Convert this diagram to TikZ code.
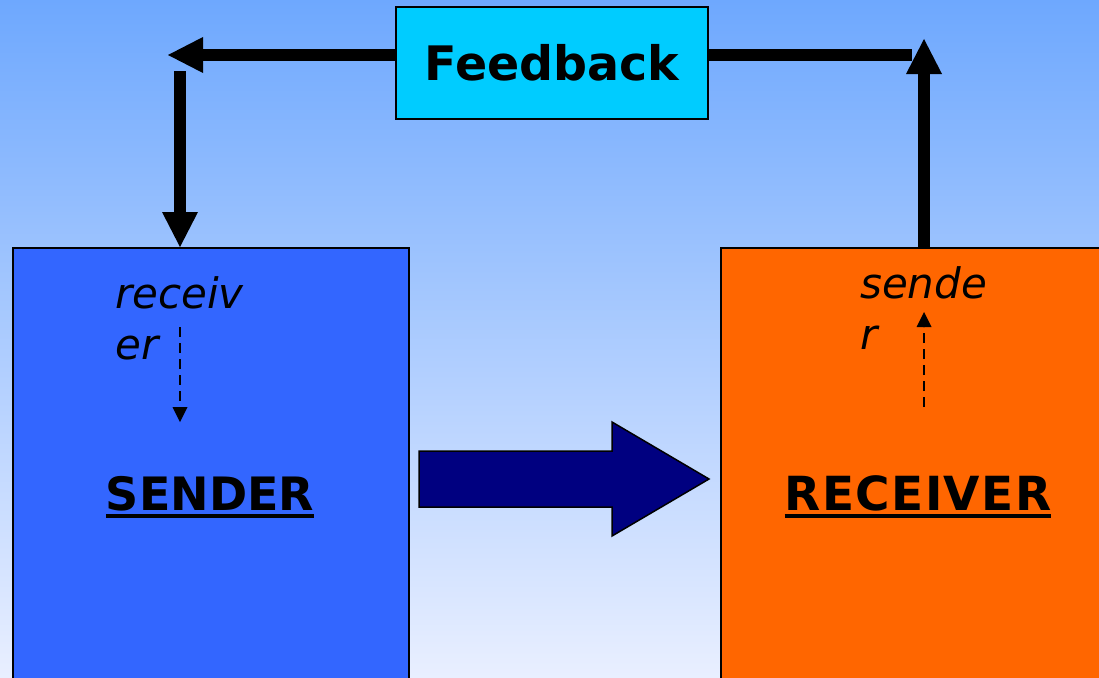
\documentclass[tikz,border=0pt]{standalone}
\usepackage{fontspec}
\setmainfont{DejaVu Sans}
\usetikzlibrary{arrows.meta}

\definecolor{skytop}{HTML}{6EA8FE}
\definecolor{skybot}{HTML}{E9EFFF}
\definecolor{fbfill}{HTML}{00CCFF}
\definecolor{sendfill}{HTML}{3366FF}
\definecolor{recvfill}{HTML}{FF6600}
\definecolor{flownavy}{HTML}{000080}

% underlined heading with a thick rule just below the baseline
\newcommand\ulword[1]{\setbox0\hbox{#1}\rlap{\rule[-8pt]{\wd0}{4pt}}\box0}

\begin{document}
\begin{tikzpicture}[x=1pt,y=-1pt,
  party/.style={draw=black, line width=2pt, anchor=north west,
                minimum height=460pt, inner sep=0pt},
  boldlabel/.style={font=\fontsize{46}{55}\selectfont\bfseries,
                    inner sep=0pt, anchor=base},
  rolelabel/.style={font=\fontsize{42}{50}\selectfont\itshape,
                    inner sep=0pt, anchor=base west},
  loop/.style={line width=12pt},
  loophead/.style={-{Triangle[width=36pt,length=35pt,line width=0pt]}},
  hint/.style={line width=2pt, dash pattern=on 10pt off 6pt,
               -{Triangle[width=15pt,length=15pt,line width=0pt]}}]

  \useasboundingbox (0,0) rectangle (1099,677);
  \clip (0,0) rectangle (1099,677);

  % sky background
  \shade[top color=skytop, bottom color=skybot] (0,0) rectangle (1099,677);

  % the two parties
  \node[party, fill=sendfill, minimum width=396pt] (sender) at (12,247) {};
  \node[party, fill=recvfill, minimum width=420pt] (receiver) at (720,247) {};

  \node[boldlabel] (sendertext) at (210,510) {\ulword{SENDER}};
  \node[boldlabel, font=\fontsize{47}{55}\selectfont\bfseries]
    (receivertext) at (918,510) {\ulword{\addfontfeature{LetterSpace=3}RECEIVER}};

  % feedback box
  \node[draw=black, line width=2pt, fill=fbfill, minimum width=312pt,
        minimum height=112pt, inner sep=0pt,
        font=\fontsize{47.5}{55}\selectfont\bfseries] (feedback) at (552,63) {Feedback};

  % feedback loop
  \coordinate (tl) at (168,55);
  \coordinate (tr) at (912,55);
  \coordinate (lv) at (180,71);
  \coordinate (rv) at (924,39);

  \draw[loop, loophead] (feedback.west |- tl) -- (tl);
  \draw[loop] (feedback.east |- tr) -- (tr);
  \draw[loop, loophead] (lv) -- (lv |- sender.north);
  \draw[loop, loophead] (rv |- receiver.north) -- (rv);

  % role labels inside the boxes
  \node[rolelabel] (recA) at (115,308) {receiv};
  \node[rolelabel] (recB) at (115,359) {er};
  \node[rolelabel] (senA) at (860,298) {sende};
  \node[rolelabel] (senB) at (860,349) {r};

  \coordinate (d1s) at (180,327);
  \coordinate (d1e) at (180,422);
  \coordinate (d2s) at (924,407);
  \coordinate (d2e) at (924,312);
  \draw[hint] (d1s) -- (d1e);
  \draw[hint] (d2s) -- (d2e);

  % message flow arrow
  \filldraw[fill=flownavy, draw=black, line width=1.5pt, line join=miter]
    (419,451) -- (612,451) -- (612,422) -- (709,479) -- (612,536)
    -- (612,507) -- (419,507) -- cycle;
\end{tikzpicture}
\end{document}
